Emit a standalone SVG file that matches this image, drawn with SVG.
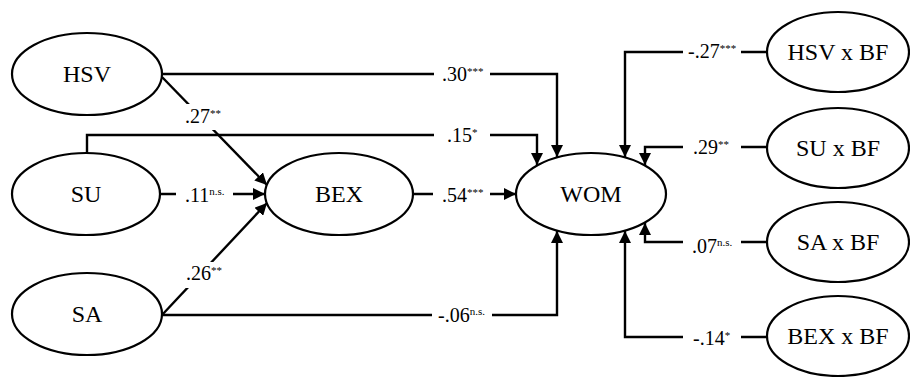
<svg xmlns="http://www.w3.org/2000/svg" width="910" height="377" viewBox="0 0 910 377">
<defs>
<style>
text{font-family:Liberation Serif,Tinos,Times New Roman,Times,DejaVu Serif,Noto Serif,FreeSerif,serif;fill:#000}
.node ellipse{fill:#fff;stroke:#000;stroke-width:2.2}
.node text{font-size:24px;text-anchor:middle}
.conn path{fill:none;stroke:#000;stroke-width:2.4;marker-end:url(#arr)}
.lbl rect{fill:#fff;stroke:none}
.lbl text{font-size:20px}
.sup{font-size:11px}
</style>
<marker id="arr" markerUnits="userSpaceOnUse" markerWidth="12" markerHeight="12" refX="12" refY="6" orient="auto">
<path d="M0,0 L12,6 L0,12 z" fill="#000"/>
</marker>
</defs>
<rect width="910" height="377" fill="#fff"/>
<g id="connectors" class="conn">
<path d="M162,74 H557 V157"/>
<path d="M87,153 V135 H537 V165"/>
<path d="M162,315 H557 V231"/>
<path d="M413,194 H516"/>
<path d="M162,77 L267,185"/>
<path d="M160,194 H265"/>
<path d="M162,315 L267,203"/>
<path d="M767,52 H625 V157"/>
<path d="M767,147 H645 V165"/>
<path d="M767,242 H645 V223"/>
<path d="M767,337 H625 V231"/>
<g class="lbl">
<rect x="434" y="64" width="56" height="22"/>
<text x="442" y="81">.30<tspan class="sup" dy="-6">***</tspan></text>
<rect x="434" y="125" width="56" height="22"/>
<text x="447" y="142">.15<tspan class="sup" dy="-6">*</tspan></text>
<rect x="433" y="185" width="57" height="22"/>
<text x="442" y="202">.54<tspan class="sup" dy="-6">***</tspan></text>
<rect x="432" y="305" width="60" height="22"/>
<text x="438" y="322">-.06<tspan class="sup" dy="-7" font-size="9">n.s.</tspan></text>
<rect x="683" y="41" width="58" height="22"/>
<text x="688" y="58">-.27<tspan class="sup" dy="-6">***</tspan></text>
<rect x="683" y="137" width="58" height="22"/>
<text x="693" y="154">.29<tspan class="sup" dy="-6">**</tspan></text>
<rect x="683" y="236" width="58" height="22"/>
<text x="692" y="253">.07<tspan class="sup" dy="-7" font-size="9">n.s.</tspan></text>
<rect x="683" y="328" width="58" height="22"/>
<text x="693" y="345">-.14<tspan class="sup" dy="-6">*</tspan></text>
<rect x="176" y="185" width="57" height="22"/>
<text x="185" y="202">.11<tspan class="sup" dy="-7" font-size="9">n.s.</tspan></text>
<rect x="181" y="104" width="40" height="26"/>
<text x="185" y="123">.27<tspan class="sup" dy="-6">**</tspan></text>
<rect x="181" y="262" width="40" height="26"/>
<text x="186" y="280">.26<tspan class="sup" dy="-6">**</tspan></text>
</g>
</g>
<g id="HSV" class="node"><ellipse cx="87" cy="74" rx="75" ry="41"/><text x="87" y="82">HSV</text></g>
<g id="SU" class="node"><ellipse cx="86" cy="194" rx="74" ry="41"/><text x="86" y="202">SU</text></g>
<g id="SA" class="node"><ellipse cx="87" cy="314" rx="75" ry="41"/><text x="87" y="322">SA</text></g>
<g id="BEX" class="node"><ellipse cx="339" cy="194" rx="74" ry="41"/><text x="339" y="202">BEX</text></g>
<g id="WOM" class="node"><ellipse cx="591" cy="194" rx="75" ry="41"/><text x="591" y="202">WOM</text></g>
<g id="HSVxBF" class="node"><ellipse cx="838" cy="52" rx="71" ry="40"/><text x="838" y="60">HSV x BF</text></g>
<g id="SUxBF" class="node"><ellipse cx="838" cy="148" rx="71" ry="40"/><text x="838" y="156">SU x BF</text></g>
<g id="SAxBF" class="node"><ellipse cx="838" cy="242" rx="71" ry="40"/><text x="838" y="250">SA x BF</text></g>
<g id="BEXxBF" class="node"><ellipse cx="838" cy="336" rx="71" ry="40"/><text x="838" y="344">BEX x BF</text></g>
</svg>
